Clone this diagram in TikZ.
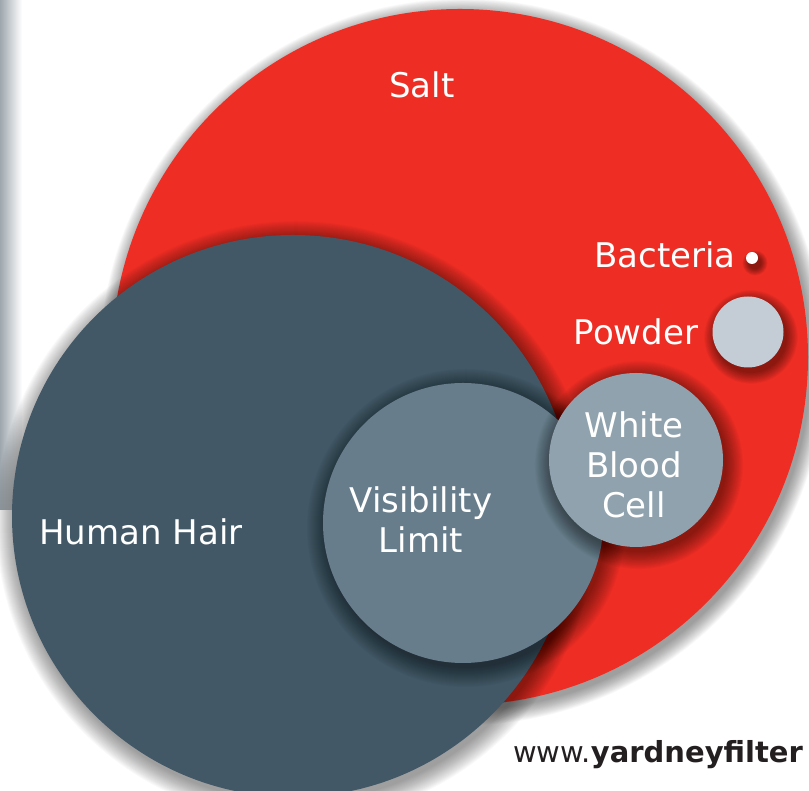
\documentclass[tikz,border=0pt]{standalone}
\usepackage{fontspec}
\setmainfont{DejaVu Sans}
\definecolor{saltred}{HTML}{EE2E24}
\definecolor{hairslate}{HTML}{425867}
\definecolor{visslate}{HTML}{677D8B}
\definecolor{cellgray}{HTML}{8FA2AE}
\definecolor{powdergray}{HTML}{C4CDD5}
\definecolor{stripgray}{HTML}{9EA7AE}
\definecolor{urlgray}{HTML}{231F20}
% soft shadow under a round blob: centre, radius, spread
\newcommand{\softshadow}[3]{%
  \foreach \k in {1,...,20}
    \fill[black,opacity=0.022] ([shift={(3,-5)}]#1) circle ({(#2+#3*(1-\k/20))*1pt});}
\begin{document}
\begin{tikzpicture}[x=1pt,y=1pt,
    blob/.style={circle,inner sep=0pt,draw=none,minimum size=#1},
    lbl/.style={text=white,align=center,font=\fontsize{34}{40}\selectfont}]
  \useasboundingbox (0,0) rectangle (809,791);
  \clip (0,0) rectangle (809,791);
  \shade[left color=stripgray,right color=white] (0,281) rectangle (22,791);
  \coordinate (c-salt) at (460,434);
  \coordinate (c-hair) at (293,275);
  \coordinate (c-vis) at (463,268);
  \coordinate (c-cell) at (636,331);
  \coordinate (c-powder) at (748,459);
  \coordinate (c-bact) at (752,533);
  \softshadow{c-salt}{348}{16}
  \node[blob=696pt,fill=saltred] (salt) at (c-salt) {};
  \softshadow{c-hair}{281}{20}
  \node[blob=562pt,fill=hairslate] (hair) at (c-hair) {};
  \softshadow{c-vis}{140}{20}
  \node[blob=280pt,fill=visslate] (vis) at (c-vis) {};
  \softshadow{c-cell}{87}{18}
  \node[blob=174pt,fill=cellgray] (cell) at (c-cell) {};
  \softshadow{c-powder}{35.5}{12}
  \node[blob=71pt,fill=powdergray] (powder) at (c-powder) {};
  \softshadow{c-bact}{6}{7}
  \node[blob=12pt,fill=white] (bact) at (c-bact) {};
  \node[lbl,anchor=base] (salt-lbl) at (422,693) {Salt};
  \node[lbl,anchor=base] (bact-lbl) at (665,523) {Bacteria};
  \node[lbl,anchor=base] (powder-lbl) at (636,446) {Powder};
  \node[lbl,anchor=base] (hair-lbl) at (141,246) {Human Hair};
  \node[lbl] (vis-lbl) at (421,271) {Visibility\\Limit};
  \node[lbl] (cell-lbl) at (634,326) {White\\Blood\\Cell};
  \node[anchor=base west,inner sep=0pt,text=urlgray,font=\fontsize{29}{34}\selectfont] (url) at (513,28) {www.\textbf{yardneyfilter}};
\end{tikzpicture}
\end{document}
